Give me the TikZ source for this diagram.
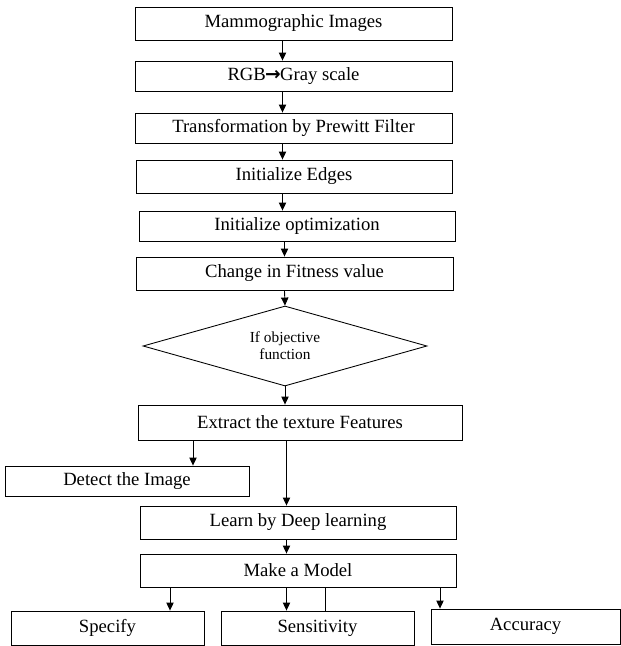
\documentclass[tikz,border=0pt]{standalone}
\usepackage{fontspec}
\setmainfont{Liberation Serif}
\newfontfamily\arrowfont{DejaVu Sans}
\usetikzlibrary{arrows.meta, shapes.geometric}

\begin{document}
\begin{tikzpicture}[x=0.75pt, y=-0.75pt, >={Triangle[length=6pt, width=5.5pt]},
  stepbox/.style={draw, line width=0.65pt, inner sep=0pt, minimum height=32*0.75pt,
    font=\fontsize{14}{16}\selectfont},
  test/.style={draw, diamond, line width=0.65pt, inner sep=0pt, aspect=3.5,
    minimum width=284*0.75pt, minimum height=80*0.75pt, align=center,
    font=\fontsize{11.5}{13}\selectfont},
  link/.style={->, line width=0.65pt}]
  \useasboundingbox (0,0) rectangle (621,646);
  % Hlavni tok
  \node[stepbox, minimum width=317*0.75pt, minimum height=33*0.75pt] (mammo) at (293.5,23.5) {Mammographic Images};
  \node[stepbox, minimum width=317*0.75pt, minimum height=30*0.75pt] (rgb) at (293.5,76) {RGB\kern-0.5pt{\arrowfont\bfseries →}\kern-0.5pt Gray scale};
  \node[stepbox, minimum width=317*0.75pt, minimum height=30*0.75pt] (prewitt) at (293.5,128) {Transformation by Prewitt Filter};
  \node[stepbox, minimum width=316*0.75pt, minimum height=33*0.75pt] (edges) at (294,176.5) {Initialize Edges};
  \node[stepbox, minimum width=316*0.75pt, minimum height=30*0.75pt] (optim) at (297,226) {Initialize optimization};
  \node[stepbox, minimum width=317*0.75pt, minimum height=33*0.75pt] (fitness) at (294.5,273.5) {Change in Fitness value};
  \node[test] (objective) at (285,346) {If objective\\function};
  \node[stepbox, minimum width=324*0.75pt, minimum height=35*0.75pt] (extract) at (300,422.5) {Extract the texture Features};
  \node[stepbox, minimum width=244*0.75pt, minimum height=30*0.75pt] (detect) at (127,481) {Detect the Image};
  \node[stepbox, minimum width=316*0.75pt, minimum height=33*0.75pt] (learn) at (298,522.5) {Learn by Deep learning};
  \node[stepbox, minimum width=316*0.75pt, minimum height=33*0.75pt] (model) at (298,570.5) {Make a Model};
  % Vysledky
  \node[stepbox, minimum width=193*0.75pt, minimum height=34*0.75pt] (specify) at (107.5,628) {Specify};
  \node[stepbox, minimum width=193*0.75pt, minimum height=34*0.75pt] (sensitivity) at (317.5,628) {Sensitivity};
  \node[stepbox, minimum width=189*0.75pt, minimum height=35*0.75pt] (accuracy) at (525.5,626.5) {Accuracy};
  % Sloupce spojnic
  \coordinate (top) at (282.5,0);
  \coordinate (mid) at (284.5,0);
  \coordinate (low) at (286.5,0);
  \coordinate (lspec) at (170,0);
  \coordinate (ldet) at (193,0);
  \coordinate (lsen) at (325,0);
  \coordinate (lacc) at (440,0);
  % Spojnice
  \draw[link] (mammo.south -| top) -- (rgb.north -| top);
  \draw[link] (rgb.south -| top) -- (prewitt.north -| top);
  \draw[link] (prewitt.south -| top) -- (edges.north -| top);
  \draw[link] (edges.south -| top) -- (optim.north -| top);
  \draw[link] (optim.south -| mid) -- (fitness.north -| mid);
  \draw[link] (fitness.south -| mid) -- (objective.north);
  \draw[link] (objective.south) -- (extract.north -| objective.south);
  \draw[link] (extract.south -| ldet) -- (detect.north -| ldet);
  \draw[link] (extract.south -| low) -- (learn.north -| low);
  \draw[link] (learn.south -| low) -- (model.north -| low);
  \draw[link] (model.south -| lspec) -- (specify.north -| lspec);
  \draw[link] (model.south -| low) -- (sensitivity.north -| low);
  \draw[line width=0.65pt] (model.south -| lsen) -- (sensitivity.north -| lsen);
  \draw[link] (model.south -| lacc) -- (accuracy.north -| lacc);
\end{tikzpicture}
\end{document}
